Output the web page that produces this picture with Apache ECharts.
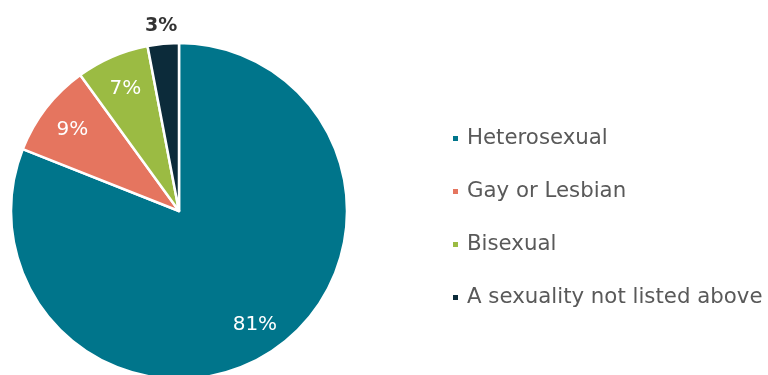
<!DOCTYPE html>
<html>
<head>
<meta charset="utf-8">
<script src="https://cdn.jsdelivr.net/npm/echarts@6/dist/echarts.min.js"></script>
<style>
  html, body { margin: 0; padding: 0; background: #fff; }
  #chart { width: 768px; height: 375px; }
</style>
</head>
<body>
<div id="chart"></div>
<script>
// Sexual orientation breakdown (percent of respondents)
const categories = ['Heterosexual', 'Gay or Lesbian', 'Bisexual', 'A sexuality not listed above'];
const shares = [81, 9, 7, 3];
const palette = ['#00758b', '#e5755f', '#9bbb43', '#0c2b3a'];

const FONT = 'DejaVu Sans';
const CENTER = [179, 211];
const SMALL_SLICE = 5; // slices below this share get their label outside

const sliceData = categories.map((name, i) => ({
  name, value: shares[i], itemStyle: { color: palette[i] }
}));

// Labels placed on transparent rings so they sit at the right distance
const innerLabelData = categories.map((name, i) => ({
  name, value: shares[i],
  label: { show: shares[i] >= SMALL_SLICE }
}));
const outerLabelData = categories.map((name, i) => ({
  name, value: shares[i],
  label: { show: shares[i] < SMALL_SLICE }
}));

const chart = echarts.init(document.getElementById('chart'), null, { renderer: 'canvas' });
chart.setOption({
  animation: false,
  backgroundColor: '#ffffff',
  legend: {
    orient: 'vertical',
    left: 446,
    top: 123,
    icon: 'rect',
    itemWidth: 7,
    itemHeight: 7,
    itemGap: 32,
    selectedMode: false,
    data: categories.map((name, i) => ({ name, itemStyle: { color: palette[i] } })),
    textStyle: { fontFamily: FONT, fontSize: 21.3, color: '#595959', lineHeight: 21, padding: [0, 0, 0, 3] }
  },
  series: [
    {
      type: 'pie',
      center: CENTER,
      radius: 168,
      startAngle: 90,
      clockwise: true,
      silent: true,
      label: { show: false },
      labelLine: { show: false },
      itemStyle: { borderColor: '#ffffff', borderWidth: 2.5 },
      data: sliceData
    },
    {
      type: 'pie',
      center: CENTER,
      radius: [96, 168],
      startAngle: 90,
      clockwise: true,
      silent: true,
      avoidLabelOverlap: false,
      itemStyle: { color: 'rgba(0,0,0,0)', borderWidth: 0 },
      label: { position: 'inside', formatter: '{c}%', color: '#ffffff', fontFamily: FONT, fontSize: 20, offset: [0, 2] },
      labelLine: { show: false },
      data: innerLabelData
    },
    {
      type: 'pie',
      center: CENTER,
      radius: [176, 198],
      startAngle: 90,
      clockwise: true,
      silent: true,
      avoidLabelOverlap: false,
      itemStyle: { color: 'rgba(0,0,0,0)', borderWidth: 0 },
      label: { position: 'inside', formatter: '{c}%', color: '#333333', fontFamily: FONT, fontSize: 19, fontWeight: 'bold', offset: [0, 4] },
      labelLine: { show: false },
      data: outerLabelData
    }
  ]
});
</script>
</body>
</html>
